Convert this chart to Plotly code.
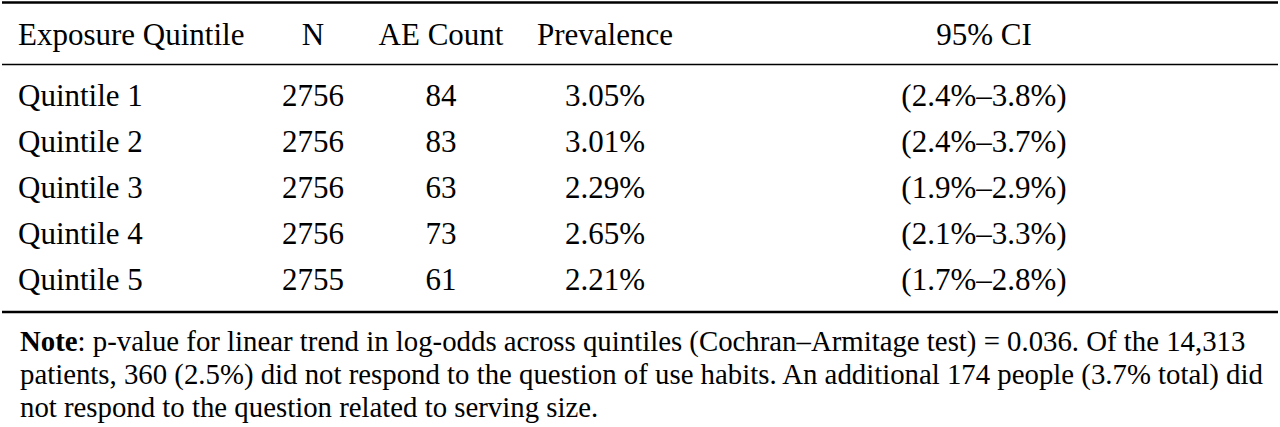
import plotly.graph_objects as go

# table contents
headers = ["Exposure Quintile", "N", "AE Count", "Prevalence", "95% CI"]
quintiles = ["Quintile 1", "Quintile 2", "Quintile 3", "Quintile 4", "Quintile 5"]
n_values = [2756, 2756, 2756, 2756, 2755]
ae_counts = [84, 83, 63, 73, 61]
prevalence = [3.05, 3.01, 2.29, 2.65, 2.21]
ci_low = [2.4, 2.4, 1.9, 2.1, 1.7]
ci_high = [3.8, 3.7, 2.9, 3.3, 2.8]
note_lines = [
    "<b>Note</b>: p-value for linear trend in log-odds across quintiles (Cochran–Armitage test) = 0.036. Of the 14,313",
    "patients, 360 (2.5%) did not respond to the question of use habits. An additional 174 people (3.7% total) did",
    "not respond to the question related to serving size.",
]

W, H = 1280, 427
FONT = "Liberation Serif, Times New Roman, serif"
col_x = [18, 313, 441, 605, 984]
header_y = 37
row_y0, row_pitch = 98, 46
note_y0, note_pitch = 341, 33

row_y = [row_y0 + i * row_pitch for i in range(len(quintiles))]

columns = [
    quintiles,
    [str(v) for v in n_values],
    [str(v) for v in ae_counts],
    [f"{v:.2f}%" for v in prevalence],
    [f"({lo:.1f}%–{hi:.1f}%)" for lo, hi in zip(ci_low, ci_high)],
]

fig = go.Figure()

# header row
for i, h in enumerate(headers):
    fig.add_trace(go.Scatter(
        x=[col_x[i]], y=[header_y], mode="text", text=[h],
        textposition="middle right" if i == 0 else "middle center",
        textfont=dict(family=FONT, size=31, color="#000"),
        hoverinfo="skip", showlegend=False,
    ))

# body rows
for i, col in enumerate(columns):
    fig.add_trace(go.Scatter(
        x=[col_x[i]] * len(col), y=row_y, mode="text", text=col,
        textposition="middle right" if i == 0 else "middle center",
        textfont=dict(family=FONT, size=31, color="#000"),
        hoverinfo="skip", showlegend=False,
    ))

# note beneath the table
for k, line in enumerate(note_lines):
    fig.add_annotation(
        x=18, y=note_y0 + k * note_pitch, xref="x", yref="y",
        text=line, showarrow=False, xanchor="left", yanchor="middle",
        align="left", font=dict(family=FONT, size=28.8, color="#000"),
    )

# booktabs style rules
rules = [(2.5, 2.5), (64.5, 1.6), (312, 2.5)]
for y, w in rules:
    fig.add_shape(type="line", xref="x", yref="y", x0=2, x1=1278, y0=y, y1=y,
                  line=dict(color="#000", width=w))

fig.update_xaxes(range=[0, W], visible=False, fixedrange=True)
fig.update_yaxes(range=[H, 0], visible=False, fixedrange=True)
fig.update_layout(
    width=W, height=H,
    margin=dict(l=0, r=0, t=0, b=0),
    paper_bgcolor="white", plot_bgcolor="white",
    hovermode=False,
)

# drop the default 8px body margin so the figure sits at the window corner
fig.write_html(
    "out.html",
    config={"displayModeBar": False, "staticPlot": True},
    post_script="document.body.style.margin = '0';",
)
